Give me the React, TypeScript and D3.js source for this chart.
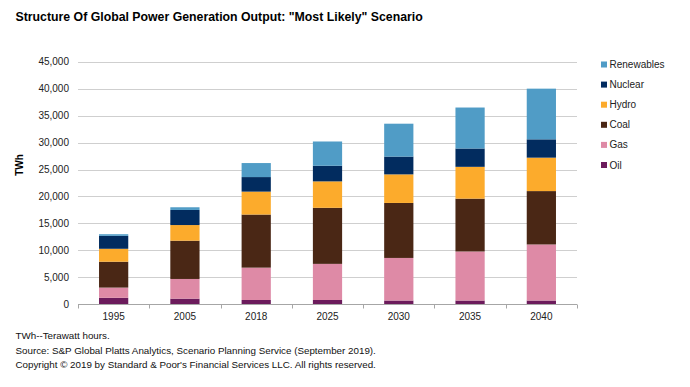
import React, { useEffect, useRef } from 'react';
import * as d3 from 'd3';

const years = ['1995', '2005', '2018', '2025', '2030', '2035', '2040'];
const seriesNames = ['Oil', 'Gas', 'Coal', 'Hydro', 'Nuclear', 'Renewables'];
const oil = [1200, 1050, 800, 800, 700, 700, 700];
const gas = [1900, 3650, 6000, 6700, 7900, 9100, 10400];
const coal = [4800, 7100, 9850, 10400, 10200, 9800, 9900];
const hydro = [2400, 2900, 4250, 4900, 5300, 5900, 6200];
const nuclear = [2400, 2800, 2700, 2900, 3300, 3400, 3400];
const renewables = [300, 500, 2600, 4500, 6100, 7600, 9400];
const yTicks = [0, 5000, 10000, 15000, 20000, 25000, 30000, 35000, 40000, 45000];
const colors = ['#6c1b5c', '#de8aa6', '#4a2715', '#fcab2c', '#022c5f', '#509cc6'];
const footnotes = [
  'TWh--Terawatt hours.',
  'Source: S&P Global Platts Analytics, Scenario Planning Service (September 2019).',
  'Copyright © 2019 by Standard & Poor\'s Financial Services LLC. All rights reserved.',
];

const W = 690;
const H = 387;
const font = 'Arial, "Liberation Sans", sans-serif';

const App: React.FC = () => {
  const svgRef = useRef<SVGSVGElement>(null);

  useEffect(() => {
    if (!svgRef.current) return;
    const svg = d3.select(svgRef.current);
    svg.selectAll('*').remove();

    const values = [oil, gas, coal, hydro, nuclear, renewables];
    const table = years.map((y, i) => {
      const row: any = { year: y };
      seriesNames.forEach((s, k) => (row[s] = values[k][i]));
      return row;
    });
    const stacked = d3.stack<any>().keys(seriesNames)(table);

    const x = d3.scaleBand<string>()
      .domain(years)
      .range([78, 577])
      .paddingInner(0.59)
      .paddingOuter(0.295);
    const y = d3.scaleLinear().domain([0, 45000]).range([304.3, 61.7]);

    svg.append('rect').attr('width', W).attr('height', H).attr('fill', '#fff');

    // title
    svg.append('text')
      .attr('x', 15.5).attr('y', 21)
      .style('font', `bold 12.3px ${font}`)
      .attr('fill', '#000')
      .text('Structure Of Global Power Generation Output: "Most Likely" Scenario');

    // gridlines
    svg.append('g')
      .selectAll('line')
      .data(yTicks.slice(1))
      .join('line')
      .attr('x1', 78).attr('x2', 577)
      .attr('y1', d => Math.round(y(d)) + 0.5)
      .attr('y2', d => Math.round(y(d)) + 0.5)
      .attr('stroke', '#cfcfcf')
      .attr('stroke-width', 1);

    // y tick labels
    svg.append('g')
      .selectAll('text')
      .data(yTicks)
      .join('text')
      .attr('x', 69)
      .attr('y', d => y(d) + 3.5)
      .attr('text-anchor', 'end')
      .style('font', `10px ${font}`)
      .attr('fill', '#222')
      .text(d => d3.format(',')(d));

    // y axis title
    svg.append('text')
      .attr('transform', `translate(23,165) rotate(-90)`)
      .attr('text-anchor', 'middle')
      .style('font', `bold 10px ${font}`)
      .attr('fill', '#000')
      .text('TWh');

    // bars
    svg.append('g')
      .selectAll('g')
      .data(stacked)
      .join('g')
      .attr('fill', (_d, i) => colors[i])
      .selectAll('rect')
      .data(d => d)
      .join('rect')
      .attr('x', (d: any) => x(d.data.year)!)
      .attr('width', x.bandwidth())
      .attr('y', d => y(d[1]))
      .attr('height', d => y(d[0]) - y(d[1]));

    // x axis
    const base = Math.round(y(0)) + 0.5;
    svg.append('line')
      .attr('x1', 78).attr('x2', 577)
      .attr('y1', base).attr('y2', base)
      .attr('stroke', '#a6a6a6');
    const bounds = years.map(yr => x(yr)! - (x.step() * x.paddingInner()) / 2);
    bounds.push(577);
    svg.append('g')
      .selectAll('line')
      .data(bounds)
      .join('line')
      .attr('x1', d => Math.round(d) + 0.5).attr('x2', d => Math.round(d) + 0.5)
      .attr('y1', base).attr('y2', base + 4)
      .attr('stroke', '#a6a6a6');
    svg.append('g')
      .selectAll('text')
      .data(years)
      .join('text')
      .attr('x', d => x(d)! + x.bandwidth() / 2)
      .attr('y', 320)
      .attr('text-anchor', 'middle')
      .style('font', `10px ${font}`)
      .attr('fill', '#222')
      .text(d => d);

    // legend (top to bottom: Renewables ... Oil)
    const legendOrder = seriesNames.map((s, i) => ({ s, c: colors[i] })).reverse();
    const lg = svg.append('g')
      .selectAll('g')
      .data(legendOrder)
      .join('g')
      .attr('transform', (_d, i) => `translate(601,${64.5 + i * 20.1})`);
    lg.append('rect')
      .attr('x', 0).attr('y', -3).attr('width', 6).attr('height', 6)
      .attr('fill', d => d.c);
    lg.append('text')
      .attr('x', 8.5).attr('y', 3.5)
      .style('font', `10px ${font}`)
      .attr('fill', '#222')
      .text(d => d.s);

    // footnotes
    svg.append('g')
      .selectAll('text')
      .data(footnotes)
      .join('text')
      .attr('x', 15.5)
      .attr('y', (_d, i) => 339 + i * 14.6)
      .style('font', `9.8px ${font}`)
      .attr('fill', '#111')
      .text(d => d);
  }, []);

  return (
    <div style={{ position: 'absolute', left: 0, top: 0, width: W, height: H }}>
      <svg ref={svgRef} width={W} height={H} style={{ display: 'block' }} />
    </div>
  );
};

export default App;
